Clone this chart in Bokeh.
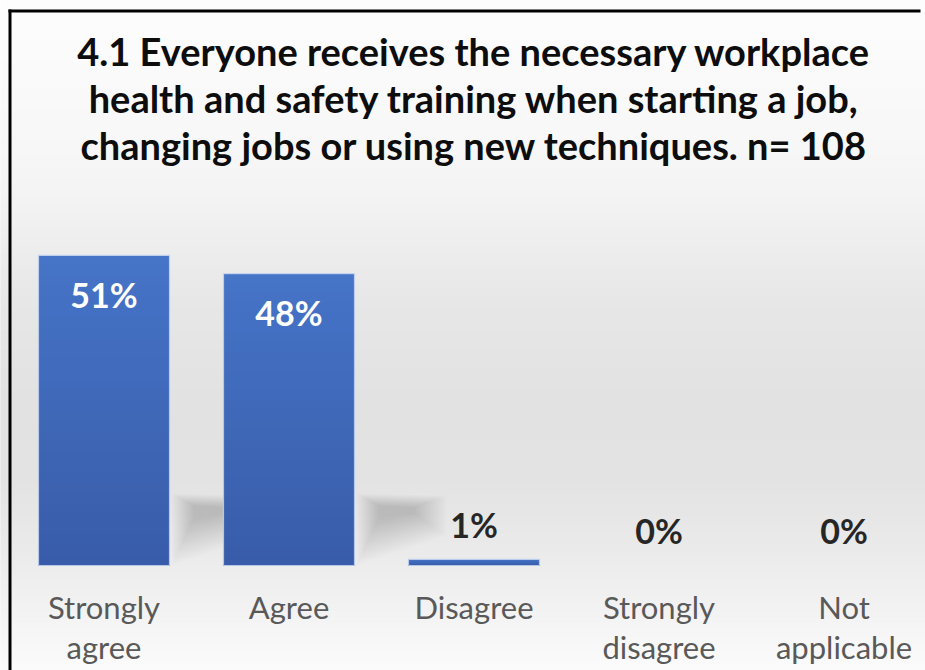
import numpy as np
from bokeh.plotting import figure
from bokeh.models import Range1d, ColumnDataSource
from bokeh.core.properties import value
from bokeh.embed import file_html
from bokeh.resources import INLINE

# ---------------- data ----------------
categories = ["Strongly\nagree", "Agree", "Disagree", "Strongly\ndisagree", "Not\napplicable"]
percentages = [51, 48, 1, 0, 0]
value_labels = ["51%", "48%", "1%", "0%", "0%"]
title_lines = [
    "4.1 Everyone receives the necessary workplace",
    "health and safety training when starting a job,",
    "changing jobs or using new techniques. n= 108",
]

# ---------------- layout helpers (pixel -> data) ----------------
W, H = 925, 670
X0_PX, STEP_PX = 103.5, 185.0      # centre of first category, category spacing
BASE_PX, UNIT_PX = 565.0, 6.08     # baseline pixel row, pixels per percent
BASELINE_FIX = 0.39                # renderer offset of alphabetic baseline (em)


def xd(px):
    return (px - X0_PX) / STEP_PX


def yd(py):
    return (BASE_PX - py) / UNIT_PX


def du_x(px):
    return px / STEP_PX


def du_y(py):
    return py / UNIT_PX


def text_y(py, size):
    return yd(py - BASELINE_FIX * size)


p = figure(width=W, height=H,
           x_range=Range1d(xd(0), xd(W)), y_range=Range1d(yd(H), yd(0)),
           output_backend="svg", toolbar_location=None,
           x_axis_location=None, y_axis_location=None,
           min_border=0, min_border_left=0, min_border_right=0,
           min_border_top=0, min_border_bottom=0)
p.grid.visible = False
p.outline_line_color = None
p.background_fill_color = "#ffffff"
p.border_fill_color = "#ffffff"

# ---------------- background gradient ----------------
stop_px = [0, 150, 200, 250, 300, 400, 480, 540, 600, 670]
stop_v = [253, 247, 243, 237, 231, 226, 227, 233, 241, 251]
band = 3
tops, bots, cols = [], [], []
for py in range(0, H, band):
    v = int(round(np.interp(py + band / 2, stop_px, stop_v)))
    tops.append(yd(py - 1))
    bots.append(yd(py + band + 1))
    cols.append("#%02x%02x%02x" % (v, v, v))
p.quad(left=xd(-2), right=xd(W + 2), top=tops, bottom=bots, fill_color=cols, line_color=None)

# ---------------- bars ----------------
xs = list(range(len(categories)))
bar_w = 131 / STEP_PX

# soft cast shadow at the foot of tall bars (many faint nested layers)
outer = np.array([(2, 72), (92, 70), (92, 30), (2, 0)], dtype=float)
core = np.array([(24, 60), (60, 58), (60, 52), (24, 46)], dtype=float)
n_layers = 22
for i, v in zip(xs, percentages):
    if v < 10:
        continue
    xr = i + bar_w / 2
    for k in range(n_layers):
        t = k / (n_layers - 1)
        pts = outer + (core - outer) * t
        p.patch(x=[xr + du_x(a) for a, b in pts], y=[du_y(b) for a, b in pts],
                fill_color="#4a4a4a", fill_alpha=0.013, line_color=None)

# bars with a gentle vertical gradient (stacked from full height downwards, no seams)
N = 30
top_c = np.array([70, 116, 200])
bot_c = np.array([56, 92, 168])
for i, v in zip(xs, percentages):
    if v <= 0:
        continue
    lefts, rights, t, cc = [], [], [], []
    for k in range(N, 0, -1):
        f = (k - 0.5) / N
        c = bot_c + (top_c - bot_c) * f
        lefts.append(i - bar_w / 2)
        rights.append(i + bar_w / 2)
        t.append(v * k / N)
        cc.append("#%02x%02x%02x" % tuple(int(round(z)) for z in c))
    p.quad(left=lefts, right=rights, top=t, bottom=0, fill_color=cc, line_color=None)

pos = [(i, v) for i, v in zip(xs, percentages) if v > 0]
src = ColumnDataSource(dict(x=[a for a, b in pos], top=[b for a, b in pos]))
p.vbar(x="x", top="top", bottom=0, width=bar_w, source=src,
       fill_color=None, line_color="#c3d3ef", line_width=1.2, line_alpha=0.9)

# ---------------- value labels ----------------
VS = 34
in_x, in_y, in_t, out_x, out_y, out_t = [], [], [], [], [], []
for i, v, lab in zip(xs, percentages, value_labels):
    if v >= 10:
        in_x.append(i); in_y.append(v - du_y(52 - BASELINE_FIX * VS)); in_t.append(lab)
    else:
        out_x.append(i); out_y.append(v + du_y(22 + BASELINE_FIX * VS)); out_t.append(lab)
p.text(x=in_x, y=in_y, text=in_t, text_font=value("Lato"), text_font_style="bold",
       text_font_size=f"{VS}px", text_color="#ffffff", text_align="center", text_baseline="alphabetic")
p.text(x=out_x, y=out_y, text=out_t, text_font=value("Lato"), text_font_style="bold",
       text_font_size=f"{VS}px", text_color="#262626", text_align="center", text_baseline="alphabetic")

# ---------------- category labels (two lines) ----------------
CS = 31
line1 = [c.split("\n")[0] for c in categories]
line2 = [c.split("\n")[1] if "\n" in c else "" for c in categories]
p.text(x=xs, y=[text_y(619, CS)] * len(xs), text=line1, text_font=value("Lato"),
       text_font_size=f"{CS}px", text_color="#595959", text_align="center",
       text_baseline="alphabetic")
p.text(x=xs, y=[text_y(659, CS)] * len(xs), text=line2, text_font=value("Lato"),
       text_font_size=f"{CS}px", text_color="#595959", text_align="center",
       text_baseline="alphabetic")

# ---------------- title ----------------
TS = 38
tx = (xs[0] + xs[-1]) / 2
p.text(x=[tx] * 3, y=[text_y(65, TS), text_y(112, TS), text_y(159, TS)], text=title_lines,
       text_font=value("Lato"), text_font_style="bold", text_font_size=f"{TS}px",
       text_color="#0d0d0d", text_align="center", text_baseline="alphabetic")

# ---------------- chart frame border (top & left, rest cropped) ----------------
p.quad(left=[xd(8), xd(8)], right=[xd(920), xd(11)],
       top=[yd(9), yd(9)], bottom=[yd(12), yd(H + 2)],
       fill_color="#000000", line_color=None)

open("out.html", "w").write(file_html(p, INLINE))
